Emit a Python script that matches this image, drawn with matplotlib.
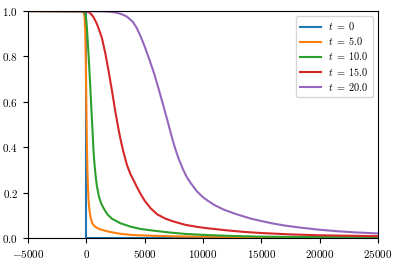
import matplotlib
matplotlib.use("Agg")
import matplotlib.pyplot as plt

plt.rcParams["font.family"] = "serif"
plt.rcParams["font.serif"] = ["cmr10"]
plt.rcParams["mathtext.fontset"] = "cm"
plt.rcParams["axes.formatter.use_mathtext"] = True
plt.rcParams["font.size"] = 8

# values
x_t0 = [-5000, 0, 0, 25000]
u_t0 = [1.0, 1.0, 0.0, 0.0]

x_t5 = [-5000, -500, -250, -150, -80, -30, 0, 30, 60, 100, 150, 200, 280,
        380, 490, 650, 900, 1200, 1490, 2000, 3000, 4000, 5520, 8000, 12000,
        18000, 25000]
u_t5 = [1.0, 0.999, 0.995, 0.98, 0.9, 0.75, 0.62, 0.5, 0.4, 0.3, 0.22, 0.165,
        0.12, 0.09, 0.068, 0.055, 0.045, 0.038, 0.034, 0.027, 0.018, 0.013,
        0.01, 0.007, 0.005, 0.003, 0.002]

x_t10 = [-5000, -500, -200, -100, 0, 50, 100, 200, 300, 400, 500, 630, 700,
         800, 920, 1100, 1300, 1490, 1800, 2200, 2930, 3800, 4650, 5520, 7000,
         8500, 10400, 12500, 15000, 20000, 25000]
u_t10 = [1.0, 0.999, 0.995, 0.99, 0.96, 0.93, 0.89, 0.806, 0.71, 0.61, 0.51,
         0.38, 0.33, 0.275, 0.226, 0.18, 0.15, 0.131, 0.105, 0.085, 0.065,
         0.05, 0.04, 0.034, 0.025, 0.018, 0.013, 0.009, 0.006, 0.004, 0.003]

x_t15 = [-5000, -500, 0, 300, 600, 900, 1150, 1350, 1650, 1925, 2200, 2500,
         2800, 3000, 3220, 3500, 3800, 4100, 4370, 4650, 5000, 5520, 6090,
         6800, 7530, 8500, 9500, 10400, 12000, 13500, 15000, 17500, 20000,
         22500, 25000]
u_t15 = [1.0, 0.999, 0.998, 0.993, 0.975, 0.945, 0.91, 0.88, 0.81, 0.733,
         0.65, 0.555, 0.47, 0.42, 0.373, 0.32, 0.28, 0.25, 0.222, 0.195,
         0.165, 0.131, 0.104, 0.085, 0.072, 0.058, 0.049, 0.043, 0.034, 0.027,
         0.022, 0.016, 0.012, 0.01, 0.008]

x_t20 = [-5000, 1000, 2000, 2600, 3100, 3500, 4000, 4300, 4650, 5000, 5400,
         5800, 6200, 6600, 7000, 7300, 7530, 7900, 8300, 8600, 8970, 9500,
         10000, 10400, 11000, 11800, 12700, 13500, 14140, 15000, 16000, 17000,
         18500, 19900, 21500, 23000, 25000]
u_t20 = [1.0, 0.999, 0.997, 0.993, 0.985, 0.975, 0.952, 0.928, 0.89, 0.845,
         0.788, 0.728, 0.658, 0.585, 0.51, 0.452, 0.41, 0.352, 0.302, 0.27,
         0.241, 0.205, 0.18, 0.165, 0.145, 0.125, 0.108, 0.095, 0.085, 0.075,
         0.064, 0.055, 0.045, 0.037, 0.03, 0.025, 0.02]

series = [(x_t0, u_t0, "0"), (x_t5, u_t5, "5.0"), (x_t10, u_t10, "10.0"),
          (x_t15, u_t15, "15.0"), (x_t20, u_t20, "20.0")]

fig = plt.figure(figsize=(3.99, 2.63), dpi=100)
ax = fig.add_axes([0.070, 0.095, 0.877, 0.863])

for xs, us, lab in series:
    ax.plot(xs, us, lw=1.5, label=r"$t\;=\;%s$" % lab)

ax.set_xlim(-5000, 25000)
ax.set_ylim(0, 1)
ax.set_xticks([-5000, 0, 5000, 10000, 15000, 20000, 25000])
ax.set_yticks([0.0, 0.2, 0.4, 0.6, 0.8, 1.0])
ax.legend(loc="upper right", fontsize=7.4, handlelength=2.1,
          labelspacing=0.3, handletextpad=0.7)

fig.savefig("out.png", dpi=100)
